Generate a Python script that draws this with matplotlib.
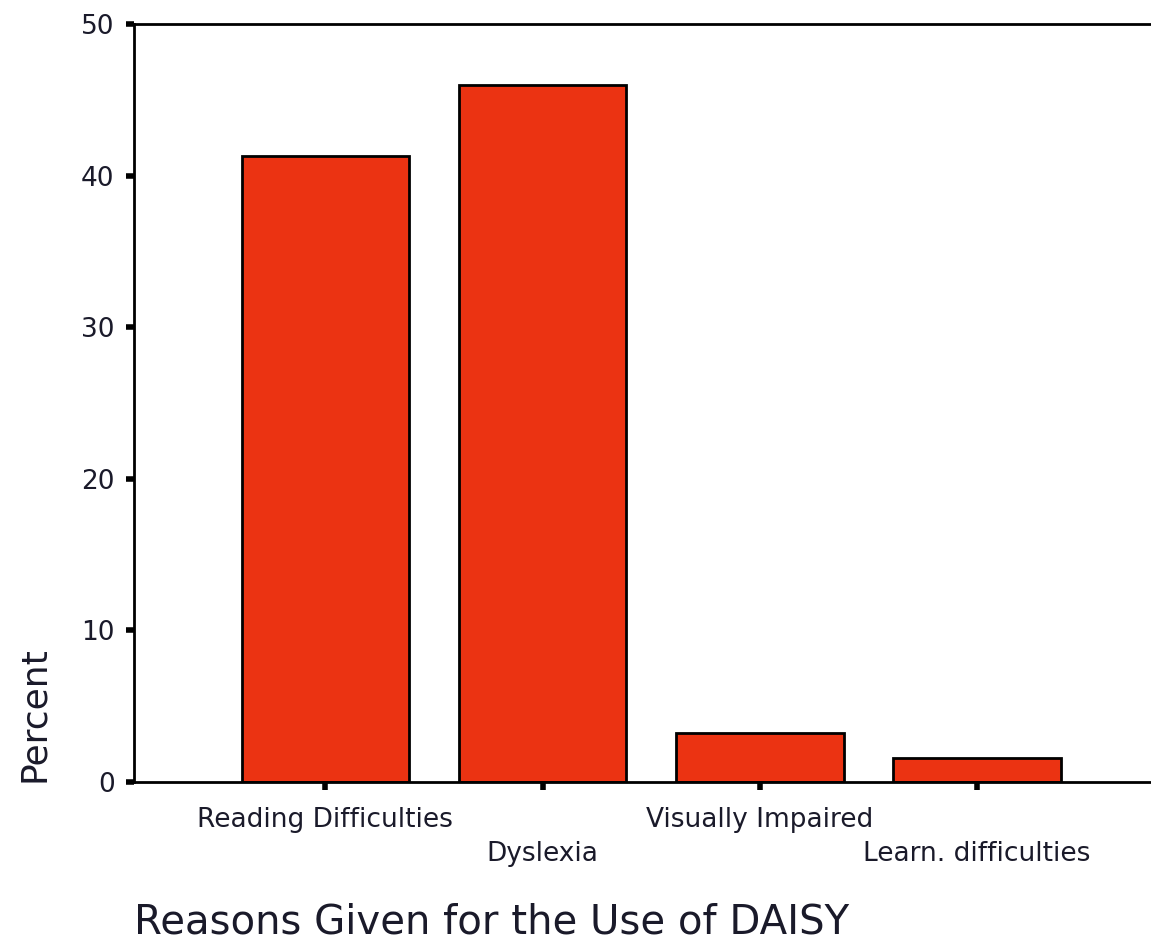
import numpy as np
import matplotlib.pyplot as plt

reasons = ['Reading Difficulties', 'Dyslexia', 'Visually Impaired', 'Learn. difficulties']
percent = [41.3, 46.0, 3.2, 1.6]
yticks = [0, 10, 20, 30, 40, 50]

plt.rcParams['font.family'] = ['DejaVu Sans']

fig = plt.figure(figsize=(11.51, 9.48), dpi=100)
ax = fig.add_axes([134 / 1151, 1 - 782 / 948, 1 - 134 / 1151, (782 - 24) / 948])

ind = np.arange(len(reasons))
ax.bar(ind, percent, 0.77, color='#EB3312', edgecolor='#000000', linewidth=2)

ax.set_xlim(-0.88, 3.8)
ax.set_ylim(0, 50)
ax.set_yticks(yticks)
ax.set_xticks(ind)
# stagger the category labels on two rows
labels = [r if i % 2 == 0 else '\n' + r for i, r in enumerate(reasons)]
ax.set_xticklabels(labels, fontsize=19, color='#1a1a2a', linespacing=1.4)
ax.tick_params(axis='both', direction='out', length=6, width=4, color='black')
ax.tick_params(axis='x', pad=12)
ax.tick_params(axis='y', labelsize=19, labelcolor='#1a1a2a', pad=8)

ax.spines['right'].set_visible(False)
for s in ['left', 'top', 'bottom']:
    ax.spines[s].set_linewidth(2)

ax.set_ylabel('Percent', fontsize=26, loc='bottom', color='#1a1a2a')
ax.yaxis.set_label_coords(-0.082, 0)
ax.set_xlabel('Reasons Given for the Use of DAISY', fontsize=29, loc='left',
              color='#1a1a2a')
ax.xaxis.set_label_coords(0.0, -0.185)
ax.xaxis.label.set_va('center')

fig.savefig('out.png', dpi=100)
